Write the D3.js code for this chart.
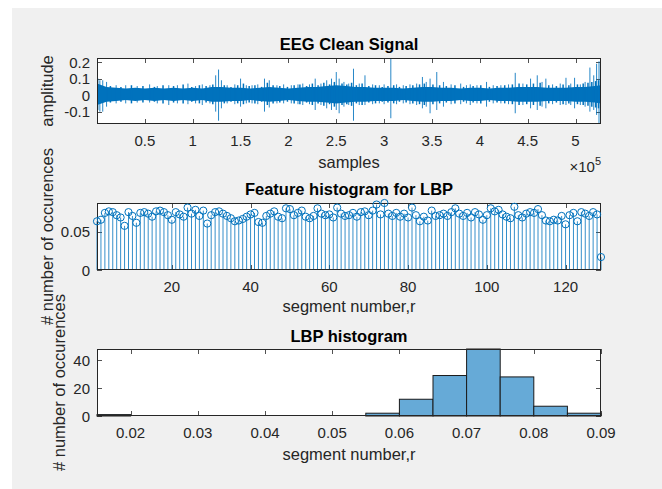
<!DOCTYPE html>
<html>
<head>
<meta charset="utf-8">
<script src="https://cdn.jsdelivr.net/npm/d3@7"></script>
<style>
  body { margin: 0; background: #fff; }
  svg { display: block; font-family: "Liberation Sans", Arial, sans-serif; }
</style>
</head>
<body>
<div id="chart"></div>
<script>
// ---- EEG clean signal (x in units of 1e5 samples) ----
// dense core band of the signal
const corePos = [0, 0.1, 0.2, 0.3, 0.4, 0.5, 0.6, 0.7, 0.8, 0.9, 1.0, 1.1, 1.2, 1.3, 1.4, 1.5, 1.6, 1.7,
  1.8, 1.9, 2.0, 2.1, 2.2, 2.3, 2.4, 2.5, 2.6, 2.7, 2.8, 2.9, 3.0, 3.1, 3.2, 3.3, 3.4, 3.5, 3.6, 3.7,
  3.8, 3.9, 4.0, 4.1, 4.2, 4.3, 4.4, 4.5, 4.6, 4.7, 4.8, 4.9, 5.0, 5.1, 5.2, 5.266];
const coreHi = [0.07, 0.05, 0.045, 0.04, 0.045, 0.04, 0.045, 0.04, 0.045, 0.04, 0.045, 0.04, 0.05, 0.05,
  0.045, 0.045, 0.04, 0.045, 0.05, 0.045, 0.04, 0.045, 0.05, 0.05, 0.055, 0.06, 0.055, 0.05, 0.05, 0.045,
  0.045, 0.045, 0.04, 0.045, 0.05, 0.05, 0.045, 0.045, 0.04, 0.045, 0.045, 0.04, 0.045, 0.045, 0.05,
  0.05, 0.05, 0.045, 0.045, 0.045, 0.05, 0.05, 0.055, 0.06];
const coreLo = [-0.06, -0.04, -0.035, -0.03, -0.035, -0.03, -0.035, -0.03, -0.035, -0.03, -0.035, -0.03,
  -0.04, -0.04, -0.035, -0.035, -0.03, -0.035, -0.04, -0.035, -0.03, -0.035, -0.04, -0.04, -0.045, -0.05,
  -0.045, -0.04, -0.04, -0.035, -0.035, -0.035, -0.03, -0.035, -0.04, -0.04, -0.035, -0.035, -0.03,
  -0.035, -0.035, -0.03, -0.035, -0.035, -0.04, -0.04, -0.04, -0.035, -0.035, -0.035, -0.04, -0.04,
  -0.045, -0.05];
// individual spikes: position, max, min
const spikePos = [0.01, 0.03, 0.06, 0.1, 0.2, 0.3, 0.42, 0.55, 0.63, 0.75, 0.84, 0.95, 1.03, 1.1, 1.18,
  1.24, 1.27, 1.3, 1.36, 1.44, 1.5, 1.56, 1.62, 1.68, 1.75, 1.8, 1.88, 1.95, 2.03, 2.1, 2.15, 2.22, 2.28,
  2.34, 2.4, 2.45, 2.5, 2.53, 2.58, 2.63, 2.68, 2.74, 2.8, 2.88, 2.95, 3.0, 3.07, 3.13, 3.2, 3.27, 3.34,
  3.4, 3.44, 3.48, 3.55, 3.62, 3.7, 3.8, 3.86, 3.9, 3.97, 4.07, 4.14, 4.22, 4.3, 4.37, 4.45, 4.53, 4.6,
  4.65, 4.69, 4.76, 4.84, 4.9, 4.95, 4.99, 5.05, 5.1, 5.15, 5.19, 5.22, 5.245, 5.26];
const spikeHi = [0.1, 0.09, 0.09, 0.08, 0.06, 0.06, 0.055, 0.065, 0.055, 0.06, 0.06, 0.07, 0.055, 0.065,
  0.06, 0.12, 0.155, 0.09, 0.06, 0.065, 0.1, 0.06, 0.06, 0.065, 0.1, 0.09, 0.06, 0.065, 0.06, 0.065,
  0.07, 0.065, 0.1, 0.07, 0.09, 0.1, 0.14, 0.1, 0.08, 0.07, 0.16, 0.07, 0.12, 0.065, 0.06, 0.065, 0.225,
  0.065, 0.06, 0.065, 0.07, 0.11, 0.08, 0.1, 0.14, 0.08, 0.065, 0.07, 0.06, 0.065, 0.06, 0.08, 0.06,
  0.06, 0.065, 0.135, 0.07, 0.1, 0.12, 0.08, 0.1, 0.065, 0.07, 0.105, 0.07, 0.105, 0.065, 0.08, 0.167,
  0.12, 0.19, 0.205, 0.2];
const spikeLo = [-0.09, -0.1, -0.1, -0.07, -0.05, -0.05, -0.045, -0.045, -0.05, -0.06, -0.05, -0.055,
  -0.05, -0.06, -0.05, -0.1, -0.155, -0.08, -0.05, -0.055, -0.07, -0.05, -0.05, -0.055, -0.1, -0.075,
  -0.05, -0.05, -0.05, -0.055, -0.06, -0.055, -0.09, -0.06, -0.08, -0.09, -0.09, -0.11, -0.07, -0.06,
  -0.155, -0.06, -0.06, -0.055, -0.05, -0.055, -0.14, -0.055, -0.05, -0.055, -0.06, -0.08, -0.07, -0.11,
  -0.09, -0.07, -0.055, -0.055, -0.05, -0.06, -0.05, -0.07, -0.05, -0.05, -0.055, -0.11, -0.06, -0.08,
  -0.09, -0.07, -0.08, -0.055, -0.06, -0.06, -0.06, -0.08, -0.06, -0.07, -0.1, -0.09, -0.12, -0.175, -0.12];
// smaller ripples around the core band
const ripplePos = [0.14, 0.25, 0.36, 0.48, 0.6, 0.69, 0.8, 0.9, 0.99, 1.07, 1.14, 1.21, 1.33, 1.4, 1.47,
  1.53, 1.59, 1.65, 1.72, 1.78, 1.84, 1.91, 1.99, 2.06, 2.12, 2.19, 2.25, 2.31, 2.37, 2.43, 2.48, 2.56,
  2.61, 2.66, 2.71, 2.77, 2.84, 2.91, 2.98, 3.04, 3.1, 3.16, 3.23, 3.3, 3.37, 3.42, 3.51, 3.58, 3.65,
  3.74, 3.83, 3.93, 4.01, 4.1, 4.18, 4.26, 4.34, 4.41, 4.49, 4.56, 4.63, 4.72, 4.8, 4.87, 4.93, 5.02,
  5.08, 5.13, 5.17, 5.21, 5.24];
const rippleHi = [0.055, 0.05, 0.06, 0.055, 0.05, 0.06, 0.055, 0.065, 0.05, 0.06, 0.055, 0.065, 0.06,
  0.05, 0.06, 0.07, 0.055, 0.06, 0.05, 0.075, 0.06, 0.055, 0.05, 0.06, 0.065, 0.055, 0.07, 0.06, 0.075,
  0.065, 0.08, 0.07, 0.065, 0.075, 0.06, 0.07, 0.055, 0.06, 0.05, 0.055, 0.06, 0.05, 0.055, 0.06, 0.065,
  0.07, 0.065, 0.06, 0.055, 0.06, 0.05, 0.055, 0.06, 0.05, 0.055, 0.06, 0.065, 0.07, 0.065, 0.07, 0.075,
  0.06, 0.055, 0.065, 0.06, 0.065, 0.07, 0.075, 0.08, 0.085, 0.09];
const rippleLo = [-0.045, -0.04, -0.05, -0.045, -0.04, -0.05, -0.045, -0.05, -0.04, -0.05, -0.045,
  -0.055, -0.05, -0.04, -0.05, -0.055, -0.045, -0.05, -0.04, -0.06, -0.05, -0.045, -0.04, -0.05, -0.055,
  -0.045, -0.06, -0.05, -0.065, -0.055, -0.07, -0.06, -0.055, -0.065, -0.05, -0.06, -0.045, -0.05, -0.04,
  -0.045, -0.05, -0.04, -0.045, -0.05, -0.055, -0.06, -0.055, -0.05, -0.045, -0.05, -0.04, -0.045, -0.05,
  -0.04, -0.045, -0.05, -0.055, -0.06, -0.055, -0.06, -0.065, -0.05, -0.045, -0.055, -0.05, -0.055,
  -0.06, -0.065, -0.07, -0.075, -0.08];
const eegXTicks = [0.5, 1, 1.5, 2, 2.5, 3, 3.5, 4, 4.5, 5];
const eegYTicks = [-0.1, 0, 0.1, 0.2];

// ---- feature histogram for LBP (stem) ----
const lbpFeature = [0.064, 0.066, 0.075, 0.077, 0.076, 0.072, 0.069, 0.058, 0.076, 0.071, 0.062, 0.075,
  0.076, 0.074, 0.070, 0.077, 0.078, 0.076, 0.072, 0.066, 0.076, 0.073, 0.070, 0.082, 0.074, 0.079, 0.071,
  0.078, 0.061, 0.072, 0.076, 0.077, 0.074, 0.071, 0.068, 0.064, 0.065, 0.067, 0.070, 0.073, 0.075, 0.063,
  0.062, 0.071, 0.074, 0.077, 0.070, 0.068, 0.081, 0.080, 0.072, 0.075, 0.078, 0.070, 0.068, 0.071, 0.081,
  0.074, 0.072, 0.073, 0.069, 0.082, 0.074, 0.071, 0.072, 0.075, 0.070, 0.076, 0.077, 0.072, 0.078, 0.086,
  0.073, 0.088, 0.074, 0.071, 0.075, 0.070, 0.074, 0.069, 0.082, 0.072, 0.064, 0.070, 0.065, 0.078, 0.071,
  0.072, 0.074, 0.071, 0.076, 0.081, 0.074, 0.071, 0.075, 0.069, 0.076, 0.073, 0.066, 0.072, 0.081, 0.077,
  0.079, 0.073, 0.070, 0.068, 0.083, 0.072, 0.069, 0.074, 0.076, 0.075, 0.080, 0.072, 0.065, 0.064, 0.066,
  0.065, 0.071, 0.060, 0.072, 0.075, 0.064, 0.076, 0.074, 0.071, 0.076, 0.073, 0.017];
const stemXTicks = [20, 40, 60, 80, 100, 120];
const stemYTicks = [0, 0.05];

// ---- LBP histogram ----
const histEdges = [0.015, 0.02, 0.025, 0.03, 0.035, 0.04, 0.045, 0.05, 0.055, 0.06, 0.065, 0.07, 0.075,
  0.08, 0.085, 0.09];
const histCounts = [1, 0, 0, 0, 0, 0, 0, 0, 2, 12, 29, 48, 28, 7, 2];
const histXTicks = [0.02, 0.03, 0.04, 0.05, 0.06, 0.07, 0.08, 0.09];
const histYTicks = [0, 20, 40];

// ---- layout ----
const W = 662, H = 489;
const left = 97, right = 601;
const blue = "#0072BD", axisCol = "#262626";

const svg = d3.select("#chart").append("svg").attr("width", W).attr("height", H);
svg.append("rect").attr("x", 12).attr("y", 8).attr("width", W - 12).attr("height", H - 8).attr("fill", "#f0f0f0");

function drawAxes(g, x, y, xTicks, yTicks, fmtX, fmtY) {
  const [x0, x1] = x.range(), [y1, y0] = y.range();
  const tl = 5;
  g.append("rect").attr("x", x0).attr("y", y0).attr("width", x1 - x0).attr("height", y1 - y0)
    .attr("fill", "#fff");
  const ticks = g.append("g").attr("stroke", axisCol).attr("stroke-width", 0.8);
  xTicks.forEach((t) => {
    const px = Math.round(x(t)) + 0.5;
    ticks.append("line").attr("x1", px).attr("x2", px).attr("y1", y1).attr("y2", y1 - tl);
    ticks.append("line").attr("x1", px).attr("x2", px).attr("y1", y0).attr("y2", y0 + tl);
  });
  yTicks.forEach((t) => {
    const py = Math.round(y(t)) + 0.5;
    ticks.append("line").attr("x1", x0).attr("x2", x0 + tl).attr("y1", py).attr("y2", py);
    ticks.append("line").attr("x1", x1).attr("x2", x1 - tl).attr("y1", py).attr("y2", py);
  });
  g.selectAll(".xt").data(xTicks).enter().append("text")
    .attr("x", (d) => x(d)).attr("y", y1 + 22).attr("text-anchor", "middle")
    .attr("font-size", 15).attr("fill", axisCol).text(fmtX);
  g.selectAll(".yt").data(yTicks).enter().append("text")
    .attr("x", x0 - 7).attr("y", (d) => y(d) + 5.5).attr("text-anchor", "end")
    .attr("font-size", 15).attr("fill", axisCol).text(fmtY);
}

function drawBox(g, x, y) {
  const [x0, x1] = x.range(), [y1, y0] = y.range();
  g.append("rect").attr("x", x0 + 0.5).attr("y", y0 + 0.5).attr("width", x1 - x0 - 1)
    .attr("height", y1 - y0 - 1).attr("fill", "none").attr("stroke", axisCol).attr("stroke-width", 1);
}

function titleAndLabels(g, title, ty, xlabel, xly, ylabel, ylx, yc) {
  g.append("text").attr("x", (left + right) / 2).attr("y", ty).attr("text-anchor", "middle")
    .attr("font-size", 16.5).attr("font-weight", "bold").attr("fill", "#000").text(title);
  g.append("text").attr("x", (left + right) / 2).attr("y", xly).attr("text-anchor", "middle")
    .attr("font-size", 16.5).attr("fill", axisCol).text(xlabel);
  g.append("text").attr("transform", `translate(${ylx},${yc}) rotate(-90)`).attr("text-anchor", "middle")
    .attr("font-size", 16.5).attr("fill", axisCol).text(ylabel);
}

// ---- subplot 1: EEG ----
{
  const g = svg.append("g");
  const x = d3.scaleLinear().domain([0, 5.266]).range([left, right]);
  const y = d3.scaleLinear()
    .domain([d3.min(spikeLo), d3.max(spikeHi)])
    .range([124, 58]);
  drawAxes(g, x, y, eegXTicks, eegYTicks, (d) => String(d), (d) => String(d));
  const core = corePos.map((p, i) => ({ p, hi: coreHi[i], lo: coreLo[i] }));
  g.append("path").datum(core)
    .attr("d", d3.area().x((d) => x(d.p)).y0((d) => y(d.lo)).y1((d) => y(d.hi)))
    .attr("fill", blue);
  g.selectAll(".ripple").data(ripplePos).enter().append("line")
    .attr("x1", (d) => x(d)).attr("x2", (d) => x(d))
    .attr("y1", (d, i) => y(rippleHi[i])).attr("y2", (d, i) => y(rippleLo[i]))
    .attr("stroke", blue).attr("stroke-width", 1.5);
  g.selectAll(".spike").data(spikePos).enter().append("line")
    .attr("x1", (d) => x(d)).attr("x2", (d) => x(d))
    .attr("y1", (d, i) => y(spikeHi[i])).attr("y2", (d, i) => y(spikeLo[i]))
    .attr("stroke", blue).attr("stroke-width", 1).attr("stroke-opacity", 0.85);
  drawBox(g, x, y);
  titleAndLabels(g, "EEG Clean Signal", 50, "samples", 168, "amplitude", 53, 91);
  const ex = g.append("text").attr("x", right).attr("y", 172).attr("text-anchor", "end")
    .attr("font-size", 15).attr("fill", axisCol);
  ex.append("tspan").text("\u00d710");
  ex.append("tspan").attr("dy", -7).attr("font-size", 11).text("5");
}

// ---- subplot 2: stem ----
{
  const g = svg.append("g");
  const x = d3.scaleLinear().domain([1, lbpFeature.length]).range([left, right]);
  const y = d3.scaleLinear().domain([0, d3.max(lbpFeature)]).range([270, 203]);
  drawAxes(g, x, y, stemXTicks, stemYTicks, (d) => String(d), (d) => String(d));
  g.selectAll(".stem").data(lbpFeature).enter().append("line")
    .attr("x1", (d, i) => x(i + 1)).attr("x2", (d, i) => x(i + 1))
    .attr("y1", y(0)).attr("y2", (d) => y(d))
    .attr("stroke", blue).attr("stroke-width", 0.8);
  drawBox(g, x, y);
  g.selectAll(".mk").data(lbpFeature).enter().append("circle")
    .attr("cx", (d, i) => x(i + 1)).attr("cy", (d) => y(d)).attr("r", 3.6)
    .attr("fill", "none").attr("stroke", blue).attr("stroke-width", 1);
  titleAndLabels(g, "Feature histogram for LBP", 195, "segment number,r", 312,
    "# number of occurences", 53, 236.5);
}

// ---- subplot 3: histogram ----
{
  const g = svg.append("g");
  const x = d3.scaleLinear().domain([histEdges[0], histEdges[histEdges.length - 1]]).range([left, right]);
  const y = d3.scaleLinear().domain([0, d3.max(histCounts)]).range([416, 349]);
  drawAxes(g, x, y, histXTicks, histYTicks, (d) => d.toFixed(2), (d) => String(d));
  const bins = histCounts.map((c, i) => ({ a: histEdges[i], b: histEdges[i + 1], c }))
    .filter((d) => d.c > 0);
  g.selectAll(".bar").data(bins).enter().append("rect")
    .attr("x", (d) => x(d.a)).attr("width", (d) => x(d.b) - x(d.a))
    .attr("y", (d) => y(d.c)).attr("height", (d) => y(0) - y(d.c))
    .attr("fill", "#66aad7").attr("stroke", "#1a1a1a").attr("stroke-width", 1);
  drawBox(g, x, y);
  titleAndLabels(g, "LBP histogram", 341.5, "segment number,r", 460,
    "# number of occurences", 65, 382.5);
}
</script>
</body>
</html>
